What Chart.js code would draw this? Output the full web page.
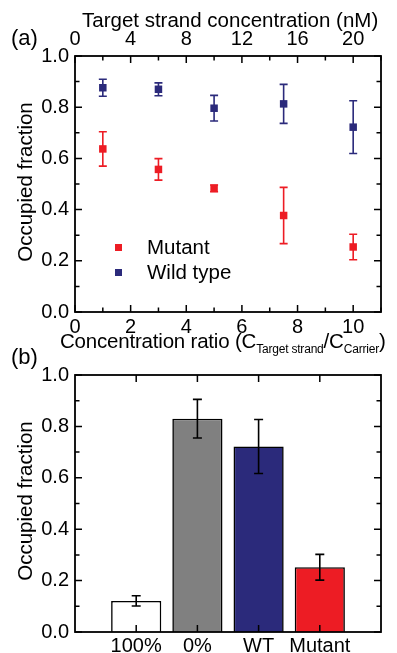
<!DOCTYPE html>
<html>
<head>
<meta charset="utf-8">
<script src="https://cdn.jsdelivr.net/npm/chart.js@4.4.0/dist/chart.umd.min.js"></script>
<style>
  body { margin: 0; background: #fff; font-family: "Liberation Sans", Arial, sans-serif; }
  #wrap { position: relative; width: 397px; height: 653px; overflow: hidden; }
  canvas { position: absolute; left: 0; }
  .lbl { position: absolute; white-space: nowrap; color: #000; font-size: 20.5px; line-height: 1; }
  .ytitle { transform: translate(-50%, -50%) rotate(-90deg); }
  .sq { position: absolute; width: 7px; height: 7px; }
  sub { font-size: 12px; vertical-align: -5px; line-height: 0; }
</style>
</head>
<body>
<div id="wrap">
  <canvas id="grafica-a" width="397" height="345" style="top:0"></canvas>
  <canvas id="grafica-b" width="397" height="308" style="top:345px"></canvas>

  <div class="lbl" style="left:82px; top:10px;">Target strand concentration (nM)</div>
  <div class="lbl" style="left:11px; top:27px; font-size:22px;">(a)</div>
  <div class="lbl ytitle" style="left:25px; top:182px;">Occupied fraction</div>
  <div class="lbl" style="left:60px; top:331px; letter-spacing:-0.2px;">Concentration ratio (C<sub>Target strand</sub>/C<sub>Carrier</sub>)</div>

  <div class="sq" style="left:115px; top:244px; background:#ed1c24;"></div>
  <div class="lbl" style="left:147px; top:237px;">Mutant</div>
  <div class="sq" style="left:115px; top:269px; background:#2b2a7b;"></div>
  <div class="lbl" style="left:147px; top:262px;">Wild type</div>

  <div class="lbl" style="left:11px; top:346px; font-size:22px;">(b)</div>
  <div class="lbl ytitle" style="left:25px; top:501px;">Occupied fraction</div>
</div>

<script>
// Panel (a): fracción ocupada frente a la razón de concentración
const ratios = [1, 3, 5, 7.5, 10];
const mutantMean = [0.637, 0.557, 0.483, 0.377, 0.254];
const mutantErr = [0.067, 0.042, 0.013, 0.110, 0.050];
const wildMean = [0.876, 0.870, 0.796, 0.813, 0.722];
const wildErr = [0.033, 0.025, 0.050, 0.076, 0.103];

// Panel (b): barras
const barLabels = ['100%', '0%', 'WT', 'Mutant'];
const barMean = [0.121, 0.830, 0.722, 0.252];
const barErr = [0.020, 0.075, 0.105, 0.050];
const barColors = ['#ffffff', '#808080', '#2b2a7b', '#ed1c24'];

const yTickValues = [0, 0.2, 0.4, 0.6, 0.8, 1.0];

Chart.defaults.font.family = '"Liberation Sans", Arial, sans-serif';
Chart.defaults.font.size = 20;
Chart.defaults.color = '#000';
Chart.defaults.animation = false;

// barras de error (encima o debajo de las marcas)
const errorBars = {
  id: 'errorBars',
  draw(chart, over) {
    const ctx = chart.ctx;
    const yScale = chart.scales.y;
    chart.data.datasets.forEach((ds, i) => {
      if (!ds.errors || !!ds.errorsOver !== over) return;
      const meta = chart.getDatasetMeta(i);
      meta.data.forEach((el, j) => {
        const v = ds.data[j];
        const e = ds.errors[j];
        if (v == null || e == null) return;
        const val = typeof v === 'object' ? v.y : v;
        const x = el.x;
        const yTop = yScale.getPixelForValue(val + e);
        const yBot = yScale.getPixelForValue(val - e);
        const cap = ds.errorCap || 4;
        ctx.save();
        ctx.strokeStyle = ds.errorColor;
        ctx.lineWidth = 1.6;
        ctx.beginPath();
        ctx.moveTo(x, yTop); ctx.lineTo(x, yBot);
        ctx.moveTo(x - cap, yTop); ctx.lineTo(x + cap, yTop);
        ctx.moveTo(x - cap, yBot); ctx.lineTo(x + cap, yBot);
        ctx.stroke();
        ctx.restore();
      });
    });
  },
  beforeDatasetsDraw(chart) { this.draw(chart, false); },
  afterDatasetsDraw(chart) { this.draw(chart, true); }
};

// marco y marcas de graduación hacia dentro
const marco = {
  id: 'marco',
  afterDraw(chart, args, opts) {
    const ctx = chart.ctx;
    const a = chart.chartArea;
    const xs = chart.scales.x, ys = chart.scales.y;
    ctx.save();
    ctx.strokeStyle = '#000';
    ctx.lineWidth = 1.8;
    ctx.strokeRect(a.left, a.top, a.right - a.left, a.bottom - a.top);
    ctx.lineWidth = 1.5;
    ctx.beginPath();
    opts.xTicks.forEach(t => {
      const px = xs.getPixelForValue(t.v);
      const len = t.major ? 7 : 4.5;
      ctx.moveTo(px, a.bottom); ctx.lineTo(px, a.bottom - len);
      ctx.moveTo(px, a.top); ctx.lineTo(px, a.top + len);
    });
    opts.yTicks.forEach(t => {
      const py = ys.getPixelForValue(t.v);
      const len = t.major ? 7 : 4.5;
      ctx.moveTo(a.left, py); ctx.lineTo(a.left + len, py);
      ctx.moveTo(a.right, py); ctx.lineTo(a.right - len, py);
    });
    ctx.stroke();
    ctx.restore();
  }
};

const yMarcas = [];
for (let k = 0; k <= 10; k++) yMarcas.push({ v: k / 10, major: k % 2 === 0 });

const xMarcasA = [];
for (let k = 0; k <= 11; k++) xMarcasA.push({ v: k, major: k % 2 === 0 });

const ejeY = {
  min: 0, max: 1,
  grid: { display: false, drawTicks: false },
  border: { display: false },
  afterBuildTicks: s => { s.ticks = yTickValues.map(v => ({ value: v })); },
  ticks: { padding: 6, callback: v => v.toFixed(1) },
  afterFit: s => { s.width = 75; }
};

new Chart(document.getElementById('grafica-a'), {
  type: 'scatter',
  data: {
    datasets: [
      {
        label: 'Mutant',
        data: ratios.map((r, i) => ({ x: r, y: mutantMean[i] })),
        errors: mutantErr,
        errorColor: '#ed1c24',
        errorCap: 4,
        pointStyle: 'rect',
        pointRadius: 5.3,
        backgroundColor: '#ed1c24',
        borderColor: '#ed1c24',
        borderWidth: 0
      },
      {
        label: 'Wild type',
        data: ratios.map((r, i) => ({ x: r, y: wildMean[i] })),
        errors: wildErr,
        errorColor: '#2b2a7b',
        errorCap: 4,
        pointStyle: 'rect',
        pointRadius: 5.3,
        backgroundColor: '#2b2a7b',
        borderColor: '#2b2a7b',
        borderWidth: 0
      }
    ]
  },
  options: {
    responsive: false,
    layout: { padding: { left: 0, right: 16, top: 0, bottom: 0 } },
    plugins: {
      legend: { display: false },
      tooltip: { enabled: false },
      marco: { xTicks: xMarcasA, yTicks: yMarcas }
    },
    scales: {
      x: {
        type: 'linear', position: 'bottom', min: 0, max: 11,
        grid: { display: false, drawTicks: false },
        border: { display: false },
        ticks: { stepSize: 2, includeBounds: false, autoSkip: false, maxRotation: 0, padding: 3 },
        afterFit: s => { s.height = 33; }
      },
      x2: {
        type: 'linear', position: 'top', min: 0, max: 22,
        grid: { display: false, drawTicks: false },
        border: { display: false },
        ticks: { stepSize: 4, includeBounds: false, autoSkip: false, maxRotation: 0, padding: 5 },
        afterFit: s => { s.height = 56; }
      },
      y: ejeY
    }
  },
  plugins: [errorBars, marco]
});

// Panel (b): categorías con huecos en los extremos
const etiquetasB = [''].concat(barLabels, ['']);
const datosB = [null].concat(barMean, [null]);
const erroresB = [null].concat(barErr, [null]);
const coloresB = ['#fff'].concat(barColors, ['#fff']);
const xMarcasB = barLabels.map((l, i) => ({ v: i + 1, major: true }));

new Chart(document.getElementById('grafica-b'), {
  type: 'bar',
  data: {
    labels: etiquetasB,
    datasets: [{
      data: datosB,
      errors: erroresB,
      errorsOver: true,
      errorColor: '#000',
      errorCap: 4.5,
      backgroundColor: coloresB,
      borderColor: '#000',
      borderWidth: 1.6,
      categoryPercentage: 1,
      barPercentage: 0.82
    }]
  },
  options: {
    responsive: false,
    layout: { padding: { left: 0, right: 16, top: 30, bottom: 0 } },
    plugins: {
      legend: { display: false },
      tooltip: { enabled: false },
      marco: { xTicks: xMarcasB, yTicks: yMarcas }
    },
    scales: {
      x: {
        type: 'category', offset: false,
        grid: { display: false, drawTicks: false },
        border: { display: false },
        ticks: { autoSkip: false, maxRotation: 0, padding: 2 },
        afterFit: s => { s.height = 21; }
      },
      y: Object.assign({}, ejeY, { afterFit: s => { s.width = 75; } })
    }
  },
  plugins: [errorBars, marco]
});
</script>
</body>
</html>
